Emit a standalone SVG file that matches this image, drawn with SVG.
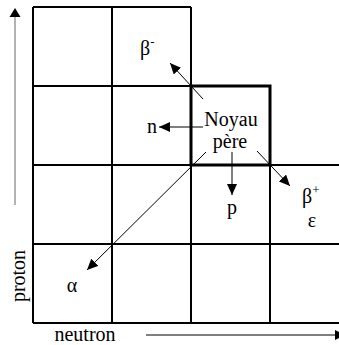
<svg xmlns="http://www.w3.org/2000/svg" width="339" height="345" viewBox="0 0 339 345">
<style>
.g{stroke:#000;stroke-width:2;fill:none}
.thick{stroke:#000;stroke-width:3;fill:none}
.c{stroke:#000;stroke-width:1;fill:none;marker-end:url(#ah)}
.t{font-family:'Liberation Serif','DejaVu Serif',serif;font-size:20px;fill:#000}
.m{text-anchor:middle}
.sup{font-size:13px}
</style>
<defs>
<marker id="ah" markerUnits="userSpaceOnUse" markerWidth="12" markerHeight="10" refX="11" refY="5" orient="auto">
<path d="M0,0 L11,5 L0,10 z" fill="#000"/>
</marker>
</defs>
<rect width="339" height="345" fill="#fff"/>
<g id="grid">
<path class="g" d="M33,7 H191 M33,86 H270 M33,165 H339 M33,244 H339 M33,323 H339 M33,7 V323 M112,7 V323 M191,7 V323 M270,86 V323"/>
</g>
<g id="noyau">
<rect class="thick" x="191" y="86" width="79" height="79"/>
<text class="t m" x="231" y="126">Noyau</text>
<text class="t m" x="230" y="148">père</text>
</g>
<g id="connectors">
<path class="c" d="M203,127 H159"/>
<path class="c" d="M203,99 L170,63"/>
<path class="c" d="M232,152 V195"/>
<path class="c" d="M257,151 L290,186"/>
<path class="c" d="M206,152 L87,270"/>
<path d="M15,205 V17" stroke="#808080" stroke-width="1.2" fill="none"/>
<path d="M9.5,17 L15,8 L20.5,17 z" fill="#000"/>
<path d="M146,335 H335" stroke="#000" stroke-width="1" fill="none"/>
<path d="M335,330 L345,335 L335,340 z" fill="#000"/>
</g>
<g id="beta-minus"><text class="t" x="140" y="55">β<tspan class="sup" dy="-9">-</tspan></text></g>
<g id="n"><text class="t m" x="152" y="133">n</text></g>
<g id="p"><text class="t m" x="232" y="214">p</text></g>
<g id="beta-plus"><text class="t" x="302" y="203">β<tspan class="sup" dy="-9">+</tspan></text></g>
<g id="epsilon"><text class="t m" x="312" y="227">ε</text></g>
<g id="alpha"><text class="t m" x="72" y="292">α</text></g>
<g id="axes">
<text class="t m" x="85" y="341">neutron</text>
<text class="t m" transform="translate(25,276) rotate(-90)">proton</text>
</g>
</svg>
